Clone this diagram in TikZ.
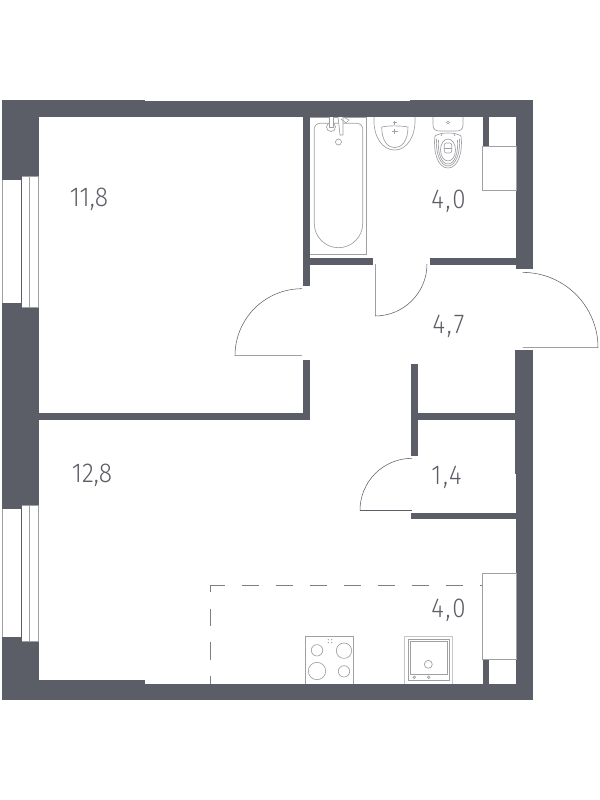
\documentclass[tikz,border=0pt]{standalone}
\usepackage{fontspec}
\setmainfont{Fira Sans Light}[FakeStretch=0.9]
\newfontfamily\widedigits{Fira Sans Light}[FakeStretch=0.88,LetterSpace=7]
\usepackage{tikz}
\definecolor{wallgray}{HTML}{5B5E66}
\definecolor{linegray}{HTML}{9EA0A4}

\begin{document}
\begin{tikzpicture}[x=0.75pt,y=-0.75pt]

	\tikzstyle{wall} = [fill=wallgray, draw=none]
	\tikzstyle{thinline} = [draw=wallgray, line width=0.4pt]
	\tikzstyle{glass} = [draw=linegray, line width=0.6pt]
	\tikzstyle{fixture} = [draw=linegray, line width=0.5pt]
	\tikzstyle{area} = [text=wallgray, font=\fontsize{20.5}{20.5}\selectfont, inner sep=0pt]
	\tikzstyle{areawide} = [area, font=\widedigits\fontsize{20.5}{20.5}\selectfont]
	\tikzstyle{leaf} = [draw=linegray, line width=0.7pt]
	\tikzstyle{zone} = [draw=wallgray!80, line width=0.6pt]

	\useasboundingbox (0,0) rectangle (600,800);

	% Outer walls
	\path [wall] (2,99.5) rectangle (145,117);
	\path [wall] (145,100.7) rectangle (410,116.7);
	\path [wall] (410,100) rectangle (533,117);
	\path [wall] (2,99.5) rectangle (38.5,176);
	\path [wall] (2,176) rectangle (22,180);
	\path [wall] (22,307) rectangle (38.5,505);
	\path [wall] (2,303) rectangle (22,509);
	\path [wall] (22,641) rectangle (38.5,700);
	\path [wall] (2,637) rectangle (22,700);
	\path [wall] (2,680) rectangle (145,700);
	\path [wall] (145,684) rectangle (532.5,700);
	\path [wall] (516,100) rectangle (533,269);
	\path [wall] (515.3,350) rectangle (533.3,474);
	\path [wall] (516,474) rectangle (532.5,700);

	% Inner walls
	\path [wall] (303.3,117) rectangle (310,286);
	\path [wall] (310,258.3) rectangle (372.7,265.3);
	\path [wall] (430,258.3) rectangle (516,265.3);
	\path [wall] (303.3,360) rectangle (310,419.5);
	\path [wall] (38,413.3) rectangle (310,419.5);
	\path [wall] (411.3,364) rectangle (418,455.7);
	\path [wall] (418,413.3) rectangle (516,419.5);
	\path [wall] (411.3,513.3) rectangle (516,519.3);
	\path [wall] (482.7,117) rectangle (489.3,147);
	\path [wall] (482.7,659) rectangle (489.3,684);

	% Windows
	\draw [glass] (2.7,180) -- (2.7,303);
	\draw [thinline] (21.7,176) -- (21.7,307);
	\draw [glass] (29.7,176) -- (29.7,307);
	\draw [glass] (38,176) -- (38,307);
	\draw [glass] (22,176) -- (38.5,176);
	\draw [glass] (22,307) -- (38.5,307);
	\draw [glass] (2.7,509) -- (2.7,637);
	\draw [thinline] (21.7,505) -- (21.7,641);
	\draw [glass] (29.7,505) -- (29.7,641);
	\draw [glass] (38,505) -- (38,641);
	\draw [glass] (22,505) -- (38.5,505);
	\draw [glass] (22,641) -- (38.5,641);

	% Doors
	\draw [leaf] (235,355.7) -- (302,355.7);
	\draw [thinline] (235,355.7) arc [start angle=180, end angle=270, radius=67];
	\draw [leaf] (375,264) -- (375,316);
	\draw [thinline] (375,316) arc [start angle=90, end angle=0, radius=52];
	\draw [leaf] (522.7,347.7) -- (598,347.7);
	\draw [thinline] (598,347.7) arc [start angle=0, end angle=-90, radius=75.3];
	\draw [thinline] (360,510.3) -- (412,510.3);
	\draw [thinline] (360,510.3) arc [start angle=180, end angle=270, radius=52];

	% Kitchen zone
	\draw [zone, dash pattern=on 13pt off 12.5pt, dash phase=1.8pt] (210.3,585) -- (482,585);
	\draw [zone, dash pattern=on 13pt off 12.2pt, dash phase=7.5pt] (210.3,585) -- (210.3,684);

	% Cupboards
	\draw [fixture] (482.7,146.7) rectangle (516,190);
	\path [fill=white] (482.7,573.3) rectangle (516,659);
	\draw [fixture] (482.7,573.3) rectangle (516,659);

	% Bath
	\draw [fixture] (310,117) -- (366.7,117) -- (366.7,254.3) -- (310,254.3);
	\draw [fixture] (320,123.3) -- (357,123.3) arc [start angle=-90, end angle=0, radius=5.7]
		-- (362.7,223.5) arc [start angle=0, end angle=180, radius=24.2]
		-- (314.3,129) arc [start angle=180, end angle=270, radius=5.7];
	\draw [fixture] (338.5,142) circle [radius=3];
	\path [fill=white] (331,127) circle [radius=4.5];
	\draw [fixture] (331,127) circle [radius=4.5];
	\draw [fixture, fill=white] (329,117) -- (329,127) -- (333,127) -- (333,117);
	\draw [fixture, fill=white] (338,117) -- (340,135) -- (343,135) -- (343,117);
	\draw [fixture] (343,117) -- (349,120) -- (346,123) -- (341,119);

	% Sink
	\draw [fixture] (374,117) .. controls (373,138) and (383,150) .. (394.7,150)
		.. controls (406,150) and (416,138) .. (415,117);
	\draw [fixture] (381.7,127) .. controls (381.7,141) and (388,147.7) .. (394.7,147.7)
		.. controls (401.5,147.7) and (408,141) .. (408,127)
		.. controls (400,125.5) and (389,125.5) .. (381.7,127);
	\draw [fixture] (392.5,122.5) -- (397,122.5) (394.7,120.5) -- (394.7,124.5);
	\draw [fixture] (392,131) -- (397.5,131) (394.7,128.5) -- (394.7,133.5);

	% Toilet
	\draw [fixture] (433,117) -- (433,125) .. controls (433,130) and (436,131) .. (440,131)
		-- (456,131) .. controls (460,131) and (463,130) .. (463,125) -- (463,117);
	\draw [fixture] (448,122.5) circle [radius=1.5];
	\draw [fixture] (435,136) .. controls (433,150) and (437,168) .. (448,168)
		.. controls (459,168) and (463,150) .. (461,136) .. controls (456,132) and (440,132) .. (435,136);
	\draw [fixture] (436.5,139) .. controls (435.5,152) and (440,166) .. (448,166)
		.. controls (456,166) and (460.5,152) .. (459.5,139);
	\draw [fixture] (438.5,140) .. controls (437.5,152) and (441,164) .. (448,164)
		.. controls (455,164) and (458.5,152) .. (457.5,140);
	\draw [fixture] (448,150) ellipse [x radius=7.5, y radius=11];
	\draw [fixture, rounded corners=1.5pt] (444.3,143) rectangle (451.7,153);
	\draw [fixture] (444.3,148) -- (451.7,148);
	\path [fill=linegray] (441.5,135) circle [radius=0.9];
	\path [fill=linegray] (454.5,135) circle [radius=0.9];

	% Stove
	\draw [fixture] (305.7,684) -- (305.7,636.3) -- (353.7,636.3) -- (353.7,684);
	\draw [fixture] (317,650.3) circle [radius=5.7];
	\draw [fixture] (344,650.7) circle [radius=7.7];
	\draw [fixture] (317,671) circle [radius=8.7];
	\draw [fixture] (344,671.3) circle [radius=5.7];
	\foreach \px in {328.3,331.7} \foreach \py in {639.7,642.7}
		\path [fill=linegray] (\px,\py) circle [radius=0.7];

	% Washer
	\draw [fixture, draw=linegray!60] (404.3,684) -- (404.3,636.3) -- (452.3,636.3) -- (452.3,684);
	\draw [fixture] (408.3,639.3) rectangle (449,680.7);
	\draw [fixture] (410.7,641) rectangle (447.3,674.3);
	\draw [fixture] (428.3,664.3) circle [radius=4];
	\draw [fixture] (414.3,677.3) circle [radius=1.3];
	\draw [fixture] (428.7,677.3) circle [radius=1.3];

	% Place nodes
	\node [area] at (89,199) (living) {11,8};
	\node [area] at (92,475) (bedroom) {12,8};
	\node [areawide] at (448.5,201) (bathroom) {4,0};
	\node [areawide] at (448.5,326) (hall) {4,7};
	\node [areawide] at (446.5,477) (storage) {1,4};
	\node [areawide] at (448.5,610) (kitchen) {4,0};
\end{tikzpicture}
\end{document}
